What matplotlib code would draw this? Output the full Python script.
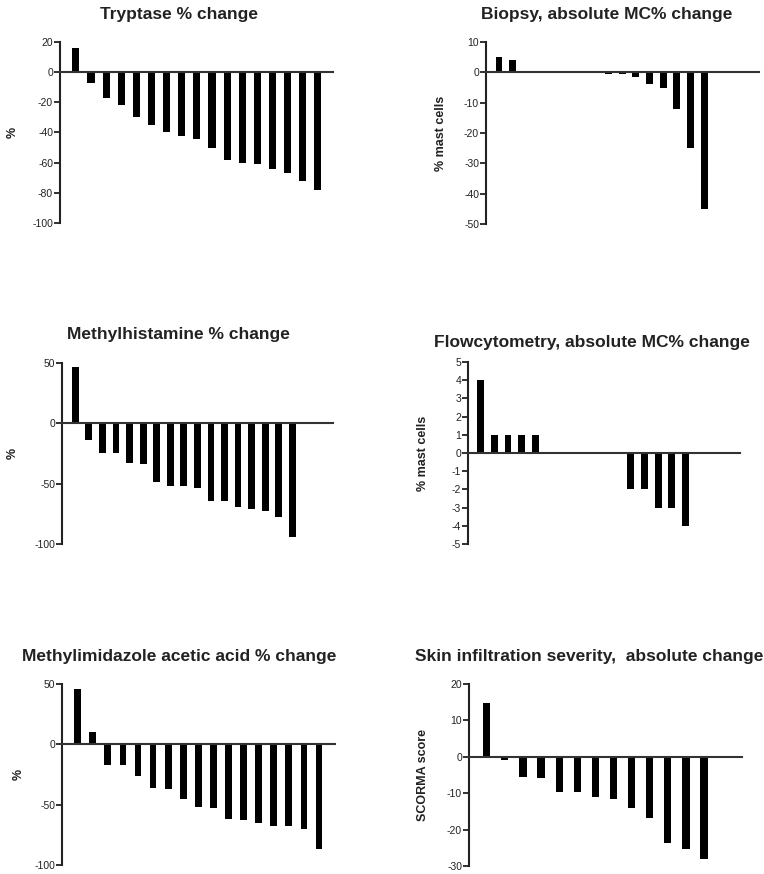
import numpy as np
import matplotlib.pyplot as plt

plt.rcParams['font.family'] = ['Liberation Sans', 'DejaVu Sans']
plt.rcParams['axes.unicode_minus'] = False

W, H = 764, 874

# data (one bar per patient, 0 = no change)
tryptase = [16, -7, -17, -22, -30, -35, -40, -42, -44, -50, -58, -60, -61, -64, -67, -72, -78]
biopsy = [5, 4, 0, 0, 0, 0, 0, 0, -0.5, -0.5, -1.5, -3.8, -5, -12, -25, -45]
methylhist = [47, -14, -25, -25, -33, -34, -49, -52, -52, -54, -64, -64, -69, -71, -73, -78, -94]
flowcyt = [4, 1, 1, 1, 1, 0, 0, 0, 0, 0, 0, -2, -2, -3, -3, -4]
miaa = [46, 10, -17, -17, -26, -36, -37, -45, -52, -53, -62, -63, -65, -68, -68, -70, -87]
skin = [14.7, -1, -5.5, -5.8, -9.7, -9.7, -11, -11.7, -14, -16.8, -23.8, -25.3, -28.1]

titles = ['Tryptase % change', 'Biopsy, absolute MC% change',
          'Methylhistamine % change', 'Flowcytometry, absolute MC% change',
          'Methylimidazole acetic acid % change', 'Skin infiltration severity,  absolute change']
ylabels = ['%', '% mast cells', '%', '% mast cells', '%', 'SCORMA score']
yticks = [np.arange(-100, 21, 20), np.arange(-50, 11, 10), np.arange(-100, 51, 50),
          np.arange(-5, 6, 1), np.arange(-100, 51, 50), np.arange(-30, 21, 10)]
series = [tryptase, biopsy, methylhist, flowcyt, miaa, skin]

# layout in pixels: left, right, top, bottom of each plot area
boxes = [(60, 333, 42, 223), (486, 759, 42, 224),
         (62, 333, 363, 544), (468, 740, 362, 544),
         (62, 335, 684, 865), (469, 742, 684, 866)]
xlims = [(-1.05, 17), (-0.95, 19), (-0.98, 19), (-0.93, 19), (-1.04, 17.06), (-0.98, 14.1)]
widths = [0.47, 0.5, 0.5, 0.5, 0.45, 0.4]
title_pos = [(179, 14), (607, 14), (178, 335), (592, 343), (179, 657), (589, 657)]
ylab_x = [19, 447, 19, 429, 25, 429]

fig = plt.figure(figsize=(W/100, H/100), dpi=100)

for i in range(6):
    l, r, t, b = boxes[i]
    ax = fig.add_axes([l/W, 1-b/H, (r-l)/W, (b-t)/H])
    vals = series[i]
    ax.bar(np.arange(len(vals)), vals, width=widths[i], color='black')
    ax.set_xlim(*xlims[i])
    ax.set_ylim(yticks[i][0], yticks[i][-1])
    ax.set_yticks(yticks[i])
    ax.set_xticks([])
    for s in ['top', 'right']:
        ax.spines[s].set_visible(False)
    ax.spines['bottom'].set_position(('data', 0))
    ax.spines['bottom'].set_color('#333333')
    ax.spines['bottom'].set_linewidth(1.5)
    ax.spines['left'].set_color('#222222')
    ax.spines['left'].set_linewidth(1.5)
    ax.tick_params(axis='y', direction='out', length=4, width=1.3, pad=1,
                   labelsize=7.5, colors='#222222')
    ax.set_ylabel(ylabels[i], fontsize=9, fontweight='bold', color='#222222')
    ax.yaxis.set_label_coords((ylab_x[i]-l)/(r-l), 0.5)
    fig.text(title_pos[i][0]/W, 1-title_pos[i][1]/H, titles[i], ha='center', va='center',
             fontsize=12.5, fontweight='bold', color='#222222')

fig.savefig('out.png', dpi=100)
